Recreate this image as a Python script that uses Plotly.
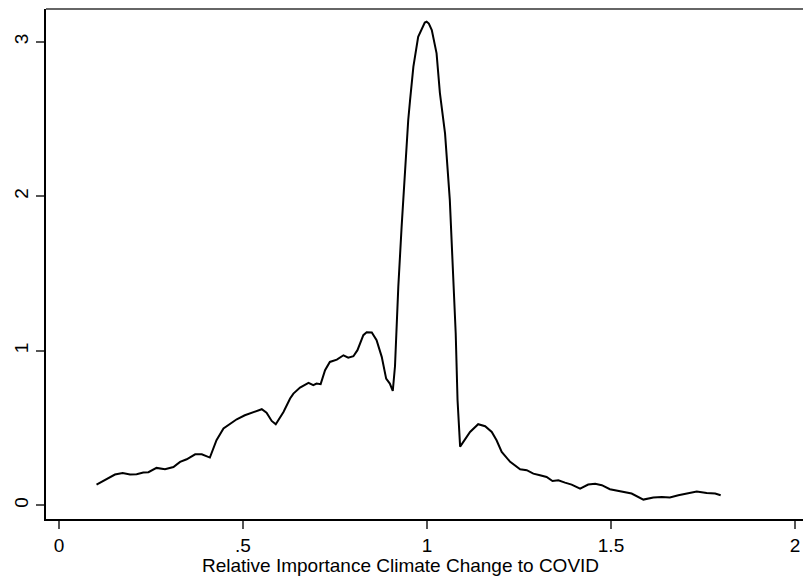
import plotly.graph_objects as go

# Kernel density estimate of the relative-importance ratio
ratio = [
    0.102, 0.130, 0.152, 0.173, 0.193, 0.211, 0.229, 0.243, 0.265, 0.288,
    0.311, 0.329, 0.347, 0.370, 0.388, 0.410, 0.428, 0.447, 0.465, 0.483,
    0.505, 0.528, 0.551, 0.564, 0.578, 0.589, 0.601, 0.610, 0.628, 0.637,
    0.655, 0.668, 0.678, 0.691, 0.700, 0.711, 0.723, 0.736, 0.755, 0.773,
    0.786, 0.800, 0.811, 0.827, 0.836, 0.850, 0.863, 0.877, 0.889, 0.899,
    0.907, 0.913, 0.922, 0.931, 0.940, 0.949, 0.954, 0.963, 0.976, 0.988,
    0.994, 0.999, 1.005, 1.013, 1.019, 1.026, 1.035, 1.043, 1.049, 1.062,
    1.071, 1.078, 1.083, 1.090, 1.117, 1.139, 1.158, 1.176, 1.189, 1.203,
    1.226, 1.253, 1.271, 1.289, 1.307, 1.325, 1.341, 1.357, 1.375, 1.393,
    1.416, 1.438, 1.457, 1.475, 1.497, 1.524, 1.549, 1.556, 1.588, 1.615,
    1.638, 1.660, 1.683, 1.706, 1.733, 1.760, 1.783, 1.798,
]
density = [
    0.134, 0.168, 0.199, 0.209, 0.199, 0.201, 0.212, 0.214, 0.242, 0.233,
    0.248, 0.281, 0.298, 0.330, 0.330, 0.309, 0.421, 0.497, 0.529, 0.557,
    0.583, 0.600, 0.622, 0.600, 0.546, 0.525, 0.572, 0.604, 0.691, 0.723,
    0.762, 0.777, 0.792, 0.777, 0.788, 0.784, 0.874, 0.928, 0.943, 0.971,
    0.956, 0.965, 1.004, 1.101, 1.120, 1.118, 1.069, 0.961, 0.820, 0.788,
    0.740, 0.900, 1.414, 1.802, 2.191, 2.494, 2.623, 2.839, 3.033, 3.102,
    3.125, 3.130, 3.118, 3.076, 3.010, 2.925, 2.670, 2.494, 2.407, 1.975,
    1.543, 1.112, 0.680, 0.380, 0.475, 0.525, 0.512, 0.475, 0.421, 0.345,
    0.281, 0.233, 0.227, 0.205, 0.194, 0.183, 0.157, 0.162, 0.147, 0.134,
    0.108, 0.134, 0.140, 0.130, 0.104, 0.093, 0.082, 0.076, 0.037, 0.050,
    0.054, 0.050, 0.065, 0.076, 0.089, 0.080, 0.076, 0.065,
]

x_ticks = [0, 0.5, 1, 1.5, 2]
x_tick_text = ["0", ".5", "1", "1.5", "2"]
y_ticks = [0, 1, 2, 3]
y_tick_text = ["0", "1", "2", "3"]
x_title = "Relative Importance Climate Change to COVID"

FONT = "Liberation Sans, Arial, sans-serif"
SIZE = 19

fig = go.Figure()
fig.add_trace(go.Scatter(
    x=ratio, y=density, mode="lines",
    line=dict(color="black", width=2),
    hoverinfo="x+y", showlegend=False,
))

fig.update_layout(
    width=803, height=576,
    margin=dict(l=46, r=0, t=9, b=57),
    paper_bgcolor="white", plot_bgcolor="white",
    font=dict(family=FONT, size=SIZE, color="black"),
    xaxis=dict(
        range=[-0.0353, 2.0217], tickvals=x_ticks, ticktext=x_tick_text,
        showgrid=False, zeroline=False,
        showline=True, linecolor="black", linewidth=2,
        ticks="outside", ticklen=8, tickwidth=1.5, tickcolor="#555",
        tickfont=dict(family=FONT, size=SIZE, color="black"),
    ),
    yaxis=dict(
        range=[-0.0887, 3.2124], tickvals=y_ticks, ticktext=y_tick_text,
        showgrid=False, zeroline=False,
        showline=True, linecolor="black", linewidth=2,
        ticks="outside", ticklen=8, tickwidth=1.5, tickcolor="#555",
        tickangle=-90,
        tickfont=dict(family=FONT, size=SIZE, color="black"),
    ),
    shapes=[dict(
        type="line", xref="paper", yref="paper",
        x0=0, x1=1, y0=1, y1=1,
        line=dict(color="#333", width=1.7),
    )],
    annotations=[dict(
        text=x_title, xref="paper", yref="paper",
        x=(400 - 46) / (803 - 46), y=-(565 - 519) / (576 - 9 - 57),
        xanchor="center", yanchor="middle", showarrow=False,
        font=dict(family=FONT, size=SIZE, color="black"),
    )],
)

fig.write_html("out.html")
